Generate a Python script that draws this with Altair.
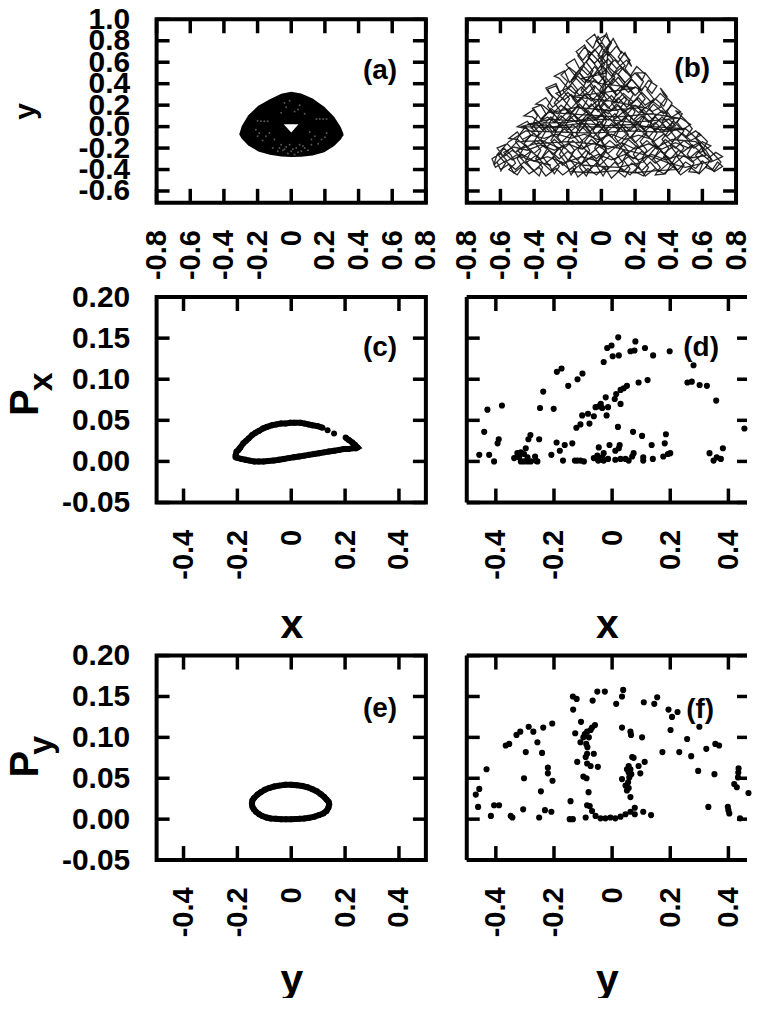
import altair as alt
import pandas as pd

FONT = "Liberation Sans"
X_TICKS_WIDE = [-0.8, -0.6, -0.4, -0.2, 0, 0.2, 0.4, 0.6, 0.8]
Y_TICKS_TOP = [-0.6, -0.4, -0.2, 0.0, 0.2, 0.4, 0.6, 0.8, 1.0]
X_TICKS_NARROW = [-0.4, -0.2, 0, 0.2, 0.4]
Y_TICKS_P = [-0.05, 0.0, 0.05, 0.10, 0.15, 0.20]

# panel (a): filled envelope of the trajectory
A_X = [-0.308, -0.294, -0.255, -0.196, -0.127, -0.059, 0, 0.059, 0.127, 0.196, 0.255, 0.294, 0.31]
A_TOP = [-0.066, 0.006, 0.106, 0.194, 0.256, 0.306, 0.325, 0.309, 0.263, 0.184, 0.091, -0.003, -0.066]
A_BOT = [-0.075, -0.112, -0.175, -0.231, -0.263, -0.278, -0.284, -0.281, -0.269, -0.238, -0.181, -0.119, -0.081]
A_HOLE_X = [-0.045, 0, 0.043]
A_HOLE_TOP = [0.022, 0.022, 0.022]
A_HOLE_BOT = [0.022, -0.056, 0.022]
A_SPECK = [(-0.05, -0.22), (-0.03, -0.19), (0.0, -0.23), (0.03, -0.2), (0.06, -0.23), (-0.02, -0.25), (0.02, -0.26),
           (0.08, -0.2), (-0.08, -0.23), (0.05, -0.17), (-0.06, -0.17), (-0.2, -0.09), (-0.17, -0.13), (-0.13, -0.06),
           (-0.1, -0.12), (-0.21, -0.03), (0.14, -0.09), (0.18, -0.12), (0.21, -0.06), (0.11, -0.05), (0.16, -0.16),
           (-0.03, 0.18), (0.02, 0.14), (0.05, 0.2), (-0.01, 0.24), (-0.06, 0.13), (0.08, 0.12), (-0.18, 0.05),
           (-0.16, 0.05), (-0.14, 0.05), (0.17, 0.07), (0.19, 0.07), (0.21, 0.07), (0.15, 0.07), (-0.2, 0.055),
           (-0.04, -0.21), (0.01, -0.21), (0.04, -0.24), (-0.07, -0.2), (0.07, -0.18), (-0.01, -0.17), (0.1, -0.22),
           (-0.11, -0.2), (0.12, -0.17), (-0.15, -0.09), (-0.19, -0.06), (0.12, -0.12), (0.2, -0.1), (0.04, 0.16), (-0.04, 0.22)]

# panel (b): trajectory, read row by row
B_PATH = [
(-0.62,-0.33),(-0.6,-0.4),(-0.55,-0.35),(-0.52,-0.43),(-0.47,-0.37),(-0.43,-0.44),(-0.37,-0.38),(-0.33,-0.46),(-0.27,-0.39),(-0.23,-0.45),(-0.17,-0.38),(-0.14,-0.47),(-0.08,-0.39),(-0.03,-0.45),(0.02,-0.38),(0.06,-0.48),(0.12,-0.39),(0.17,-0.45),(0.22,-0.37),(0.26,-0.46),(0.32,-0.39),(0.37,-0.44),(0.43,-0.37),(0.47,-0.45),(0.53,-0.38),(0.58,-0.44),(0.63,-0.36),(0.67,-0.42),(0.72,-0.37),(0.69,-0.33),
(0.66,-0.4),(0.6,-0.32),(0.56,-0.39),(0.5,-0.33),(0.45,-0.41),(0.4,-0.34),(0.34,-0.42),(0.29,-0.33),(0.24,-0.41),(0.18,-0.34),(0.13,-0.42),(0.08,-0.33),(0.03,-0.41),(-0.03,-0.34),(-0.08,-0.42),(-0.13,-0.33),(-0.19,-0.4),(-0.24,-0.33),(-0.3,-0.41),(-0.35,-0.34),(-0.4,-0.41),(-0.46,-0.33),(-0.51,-0.4),(-0.57,-0.32),(-0.63,-0.38),(-0.65,-0.3),
(-0.6,-0.25),(-0.56,-0.32),(-0.5,-0.26),(-0.45,-0.34),(-0.39,-0.27),(-0.34,-0.35),(-0.28,-0.28),(-0.23,-0.36),(-0.17,-0.27),(-0.12,-0.35),(-0.06,-0.28),(-0.01,-0.36),(0.05,-0.27),(0.1,-0.35),(0.16,-0.28),(0.21,-0.36),(0.27,-0.27),(0.32,-0.34),(0.38,-0.28),(0.43,-0.35),(0.49,-0.27),(0.54,-0.33),(0.6,-0.26),(0.65,-0.33),(0.72,-0.28),(0.68,-0.24),
(0.63,-0.3),(0.57,-0.23),(0.52,-0.3),(0.46,-0.22),(0.41,-0.3),(0.35,-0.23),(0.3,-0.31),(0.24,-0.23),(0.19,-0.3),(0.13,-0.22),(0.08,-0.31),(0.02,-0.23),(-0.03,-0.3),(-0.09,-0.22),(-0.14,-0.31),(-0.2,-0.23),(-0.25,-0.3),(-0.31,-0.22),(-0.36,-0.3),(-0.42,-0.23),(-0.47,-0.29),(-0.53,-0.22),(-0.58,-0.28),(-0.62,-0.2),
(-0.56,-0.16),(-0.51,-0.24),(-0.45,-0.17),(-0.4,-0.25),(-0.34,-0.17),(-0.29,-0.26),(-0.23,-0.18),(-0.18,-0.25),(-0.12,-0.17),(-0.07,-0.26),(-0.01,-0.18),(0.04,-0.25),(0.1,-0.17),(0.15,-0.26),(0.21,-0.18),(0.26,-0.25),(0.32,-0.17),(0.37,-0.25),(0.43,-0.18),(0.48,-0.24),(0.54,-0.17),(0.59,-0.24),(0.65,-0.18),(0.6,-0.14),
(0.55,-0.2),(0.49,-0.13),(0.44,-0.2),(0.38,-0.12),(0.33,-0.21),(0.27,-0.13),(0.22,-0.2),(0.16,-0.12),(0.11,-0.21),(0.05,-0.13),(0,-0.2),(-0.06,-0.12),(-0.11,-0.21),(-0.17,-0.13),(-0.22,-0.2),(-0.28,-0.12),(-0.33,-0.2),(-0.39,-0.13),(-0.44,-0.19),(-0.5,-0.12),(-0.55,-0.11),
(-0.5,-0.05),(-0.46,-0.14),(-0.4,-0.06),(-0.35,-0.15),(-0.29,-0.07),(-0.24,-0.15),(-0.18,-0.06),(-0.13,-0.15),(-0.07,-0.07),(-0.02,-0.15),(0.04,-0.06),(0.09,-0.15),(0.15,-0.07),(0.2,-0.15),(0.26,-0.06),(0.31,-0.14),(0.37,-0.07),(0.42,-0.14),(0.48,-0.06),(0.53,-0.13),(0.59,-0.08),(0.56,-0.04),
(0.5,-0.1),(0.44,-0.02),(0.39,-0.09),(0.33,-0.01),(0.28,-0.1),(0.22,-0.02),(0.17,-0.1),(0.11,-0.01),(0.06,-0.1),(0,-0.02),(-0.05,-0.1),(-0.11,-0.01),(-0.16,-0.1),(-0.22,-0.02),(-0.27,-0.1),(-0.33,-0.01),(-0.38,-0.09),(-0.44,-0.02),(-0.5,0.0),
(-0.44,0.05),(-0.4,-0.04),(-0.34,0.04),(-0.29,-0.05),(-0.23,0.05),(-0.18,-0.04),(-0.12,0.04),(-0.07,-0.05),(-0.01,0.05),(0.04,-0.04),(0.1,0.04),(0.15,-0.05),(0.21,0.05),(0.26,-0.04),(0.32,0.04),(0.37,-0.04),(0.43,0.05),(0.48,-0.03),(0.53,0.02),
(0.47,0.08),(0.42,0.0),(0.36,0.09),(0.31,0.01),(0.25,0.1),(0.2,0.0),(0.14,0.09),(0.09,0.01),(0.03,0.1),(-0.02,0.0),(-0.08,0.09),(-0.13,0.01),(-0.19,0.1),(-0.24,0.0),(-0.3,0.09),(-0.35,0.01),(-0.41,0.09),(-0.46,0.1),
(-0.4,0.16),(-0.36,0.07),(-0.3,0.15),(-0.25,0.06),(-0.19,0.16),(-0.14,0.07),(-0.08,0.15),(-0.03,0.06),(0.03,0.16),(0.08,0.07),(0.14,0.15),(0.19,0.06),(0.25,0.16),(0.3,0.07),(0.36,0.15),(0.41,0.08),(0.47,0.14),
(0.42,0.2),(0.37,0.12),(0.31,0.21),(0.26,0.12),(0.2,0.2),(0.15,0.11),(0.09,0.21),(0.04,0.12),(-0.02,0.2),(-0.07,0.11),(-0.13,0.21),(-0.18,0.12),(-0.24,0.2),(-0.29,0.12),(-0.35,0.2),(-0.39,0.21),
(-0.33,0.27),(-0.29,0.18),(-0.23,0.26),(-0.18,0.17),(-0.12,0.27),(-0.07,0.18),(-0.01,0.26),(0.04,0.17),(0.1,0.27),(0.15,0.18),(0.21,0.26),(0.26,0.17),(0.32,0.26),(0.37,0.19),(0.39,0.25),
(0.35,0.31),(0.3,0.22),(0.24,0.32),(0.19,0.23),(0.13,0.31),(0.08,0.22),(0.02,0.32),(-0.03,0.23),(-0.09,0.31),(-0.14,0.22),(-0.2,0.32),(-0.25,0.23),(-0.31,0.31),(-0.33,0.36),
(-0.27,0.4),(-0.24,0.29),(-0.18,0.38),(-0.13,0.29),(-0.07,0.39),(-0.02,0.28),(0.04,0.38),(0.09,0.29),(0.15,0.39),(0.2,0.29),(0.26,0.38),(0.3,0.31),(0.33,0.38),
(0.28,0.43),(0.24,0.34),(0.18,0.44),(0.13,0.35),(0.07,0.45),(0.02,0.34),(-0.04,0.44),(-0.09,0.35),(-0.15,0.45),(-0.2,0.36),(-0.25,0.45),(-0.28,0.47),
(-0.22,0.52),(-0.19,0.41),(-0.13,0.5),(-0.08,0.41),(-0.02,0.51),(0.03,0.41),(0.09,0.5),(0.14,0.41),(0.2,0.5),(0.24,0.43),(0.26,0.49),
(0.21,0.56),(0.17,0.47),(0.11,0.57),(0.06,0.47),(0,0.58),(-0.05,0.47),(-0.11,0.57),(-0.16,0.48),(-0.21,0.58),
(-0.16,0.63),(-0.13,0.54),(-0.07,0.64),(-0.02,0.54),(0.04,0.63),(0.09,0.54),(0.15,0.62),(0.18,0.56),
(0.14,0.69),(0.1,0.6),(0.04,0.7),(-0.01,0.6),(-0.07,0.7),(-0.11,0.62),(-0.15,0.7),
(-0.1,0.76),(-0.07,0.66),(-0.01,0.76),(0.04,0.66),(0.09,0.75),(0.12,0.68),
(0.07,0.82),(0.03,0.72),(-0.02,0.84),(-0.05,0.73),(-0.09,0.8),
(-0.04,0.86),(-0.01,0.76),(0.03,0.87),(0.05,0.78),(0.01,0.7),(0.0,0.55),(0.02,0.4),(-0.02,0.25),(0.01,0.1),
(-0.2,0.04),(-0.4,0.03),(-0.48,0.0),(-0.3,-0.01),(-0.1,0.0),(0.1,-0.01),(0.3,0.0),(0.5,-0.02),(0.35,-0.05),(0.15,-0.04),(-0.05,-0.06),(-0.25,-0.05),(-0.45,-0.04),
(-0.55,-0.14),(-0.62,-0.26),(-0.64,-0.36),(-0.5,-0.14),(-0.35,-0.13),(-0.25,-0.2),(-0.2,-0.31),(-0.1,-0.36),(0.1,-0.38),(0.25,-0.33),(0.32,-0.2),(0.42,-0.12),(0.56,-0.14),(0.62,-0.22),(0.66,-0.32),
(0.5,-0.38),(0.4,-0.34),(0.3,-0.28),(0.1,-0.2),(-0.05,-0.16),(-0.2,-0.14),(-0.4,-0.16),(-0.5,-0.22),(-0.45,-0.3),(-0.3,-0.36),
]
# second pass of the same trajectory, climbing and falling through the triangle
B_PATH2 = [
(-0.6,-0.42),(-0.57,-0.34),(-0.61,-0.27),(-0.58,-0.2),(-0.54,-0.26),(-0.51,-0.34),(-0.55,-0.4),(-0.5,-0.45),(-0.47,-0.38),(-0.5,-0.3),(-0.47,-0.22),(-0.51,-0.14),(-0.48,-0.06),(-0.45,0.0),(-0.42,-0.08),(-0.46,-0.16),(-0.42,-0.24),(-0.45,-0.32),(-0.41,-0.4),(-0.37,-0.46),(-0.35,-0.38),(-0.39,-0.3),(-0.36,-0.22),(-0.4,-0.14),(-0.37,-0.06),(-0.41,0.02),(-0.38,0.1),(-0.41,0.17),(-0.36,0.2),(-0.33,0.12),(-0.37,0.04),(-0.33,-0.04),(-0.36,-0.12),(-0.32,-0.2),(-0.35,-0.28),(-0.31,-0.36),(-0.28,-0.44),(-0.25,-0.37),(-0.29,-0.29),(-0.26,-0.21),(-0.3,-0.13),(-0.27,-0.05),(-0.31,0.03),(-0.28,0.11),(-0.32,0.19),(-0.29,0.27),(-0.32,0.35),(-0.27,0.38),(-0.24,0.3),(-0.28,0.22),(-0.24,0.14),(-0.27,0.06),(-0.23,-0.02),(-0.26,-0.1),(-0.22,-0.18),(-0.25,-0.26),(-0.21,-0.34),(-0.18,-0.45),(-0.15,-0.38),(-0.19,-0.3),(-0.16,-0.22),(-0.2,-0.14),(-0.17,-0.06),(-0.21,0.02),(-0.18,0.1),(-0.22,0.18),(-0.19,0.26),(-0.23,0.34),(-0.2,0.42),(-0.24,0.48),(-0.19,0.55),(-0.15,0.5),(-0.18,0.42),(-0.14,0.34),(-0.17,0.26),(-0.13,0.18),(-0.16,0.1),(-0.12,0.02),(-0.15,-0.06),(-0.11,-0.14),(-0.14,-0.22),(-0.1,-0.3),(-0.13,-0.38),(-0.09,-0.46),
(-0.06,-0.38),(-0.1,-0.3),(-0.07,-0.22),(-0.1,-0.14),(-0.06,-0.06),(-0.1,0.02),(-0.07,0.1),(-0.11,0.18),(-0.08,0.26),(-0.12,0.34),(-0.09,0.42),(-0.13,0.5),(-0.1,0.58),(-0.14,0.66),(-0.1,0.74),(-0.06,0.68),(-0.09,0.6),(-0.05,0.52),(-0.08,0.44),(-0.04,0.36),(-0.07,0.28),(-0.03,0.2),(-0.06,0.12),(-0.02,0.04),(-0.05,-0.04),(-0.01,-0.12),(-0.04,-0.2),(0,-0.28),(-0.03,-0.36),(0.01,-0.46),
(0.04,-0.38),(0.0,-0.3),(0.03,-0.22),(0.0,-0.14),(0.04,-0.06),(0.0,0.02),(0.03,0.1),(-0.01,0.18),(0.03,0.26),(-0.01,0.34),(0.02,0.42),(-0.02,0.5),(0.02,0.58),(-0.02,0.66),(0.01,0.74),(-0.03,0.8),(0.02,0.85),(0.06,0.78),(0.03,0.7),(0.07,0.62),(0.04,0.54),(0.08,0.46),(0.05,0.38),(0.09,0.3),(0.06,0.22),(0.1,0.14),(0.07,0.06),(0.11,-0.02),(0.08,-0.1),(0.12,-0.18),(0.09,-0.26),(0.13,-0.34),(0.1,-0.42),(0.14,-0.47),
(0.17,-0.39),(0.13,-0.31),(0.16,-0.23),(0.12,-0.15),(0.16,-0.07),(0.12,0.01),(0.15,0.09),(0.11,0.17),(0.15,0.25),(0.11,0.33),(0.14,0.41),(0.1,0.49),(0.14,0.57),(0.1,0.65),(0.12,0.7),(0.17,0.62),(0.14,0.54),(0.18,0.46),(0.15,0.38),(0.19,0.3),(0.16,0.22),(0.2,0.14),(0.17,0.06),(0.21,-0.02),(0.18,-0.1),(0.22,-0.18),(0.19,-0.26),(0.23,-0.34),(0.2,-0.42),(0.25,-0.46),
(0.28,-0.38),(0.24,-0.3),(0.27,-0.22),(0.23,-0.14),(0.27,-0.06),(0.23,0.02),(0.26,0.1),(0.22,0.18),(0.26,0.26),(0.22,0.34),(0.25,0.42),(0.21,0.5),(0.26,0.5),(0.3,0.42),(0.27,0.34),(0.31,0.26),(0.28,0.18),(0.32,0.1),(0.29,0.02),(0.33,-0.06),(0.3,-0.14),(0.34,-0.22),(0.31,-0.3),(0.35,-0.38),(0.32,-0.45),
(0.38,-0.44),(0.41,-0.36),(0.37,-0.28),(0.4,-0.2),(0.36,-0.12),(0.4,-0.04),(0.36,0.04),(0.39,0.12),(0.35,0.2),(0.39,0.28),(0.35,0.36),(0.37,0.3),(0.42,0.22),(0.39,0.14),(0.43,0.06),(0.4,-0.02),(0.44,-0.1),(0.41,-0.18),(0.45,-0.26),(0.42,-0.34),(0.46,-0.43),
(0.49,-0.36),(0.45,-0.28),(0.49,-0.2),(0.45,-0.12),(0.49,-0.04),(0.45,0.04),(0.48,0.12),(0.44,0.15),(0.5,0.06),(0.54,-0.02),(0.5,-0.1),(0.54,-0.18),(0.51,-0.26),(0.55,-0.34),(0.52,-0.42),(0.58,-0.43),(0.6,-0.35),(0.56,-0.27),(0.6,-0.19),(0.56,-0.11),(0.58,-0.06),(0.63,-0.14),(0.6,-0.22),(0.65,-0.3),(0.62,-0.38),(0.67,-0.41),(0.71,-0.33),(0.67,-0.26),(0.63,-0.2),
(0.5,-0.02),(0.36,-0.03),(0.2,0.02),(0.04,0.01),(-0.12,0.03),(-0.28,0.0),(-0.44,0.02),(-0.3,0.07),(-0.14,0.05),(0.02,0.07),(0.18,0.04),(0.34,0.06),(0.46,0.08),
(0.3,0.12),(0.1,0.09),(-0.1,0.11),(-0.3,0.13),(-0.15,0.18),(0.05,0.15),(0.25,0.18),(0.05,0.24),(-0.18,0.28),(0.02,0.32),(0.2,0.36),(0.0,0.4),(-0.12,0.45),(0.03,0.5),(-0.02,0.62),
]
# third pass: shorter loops through the central part
B_PATH3 = [
(-0.42,-0.02),(-0.39,0.03),(-0.35,-0.03),(-0.31,0.02),(-0.27,-0.04),(-0.24,0.03),(-0.2,-0.03),(-0.17,0.02),(-0.13,-0.04),(-0.09,0.03),(-0.05,-0.03),(-0.02,0.02),(0.02,-0.04),(0.06,0.03),(0.1,-0.03),(0.13,0.02),(0.17,-0.04),(0.21,0.03),(0.25,-0.03),(0.28,0.02),(0.32,-0.04),(0.36,0.02),(0.4,-0.03),(0.44,0.01),
(0.4,0.07),(0.36,0.03),(0.32,0.09),(0.28,0.04),(0.24,0.1),(0.2,0.05),(0.16,0.11),(0.12,0.05),(0.08,0.12),(0.04,0.06),(0,0.12),(-0.04,0.06),(-0.08,0.12),(-0.12,0.05),(-0.16,0.11),(-0.2,0.05),(-0.24,0.1),(-0.28,0.04),(-0.32,0.09),(-0.36,0.05),
(-0.3,0.17),(-0.26,0.12),(-0.22,0.18),(-0.18,0.13),(-0.14,0.2),(-0.1,0.14),(-0.06,0.21),(-0.02,0.14),(0.02,0.22),(0.06,0.15),(0.1,0.2),(0.14,0.14),(0.18,0.19),(0.22,0.13),(0.26,0.18),(0.3,0.14),(0.35,0.18),
(0.3,0.24),(0.26,0.2),(0.22,0.27),(0.18,0.21),(0.14,0.28),(0.1,0.22),(0.06,0.29),(0.02,0.23),(-0.02,0.3),(-0.06,0.24),(-0.1,0.3),(-0.14,0.24),(-0.18,0.3),(-0.22,0.25),(-0.27,0.31),
(-0.2,0.36),(-0.16,0.31),(-0.12,0.37),(-0.08,0.31),(-0.04,0.38),(0,0.31),(0.04,0.38),(0.08,0.32),(0.12,0.38),(0.16,0.32),(0.2,0.37),(0.24,0.33),
(0.18,0.44),(0.14,0.38),(0.1,0.46),(0.06,0.39),(0.02,0.47),(-0.02,0.4),(-0.06,0.47),(-0.1,0.41),(-0.14,0.47),(-0.18,0.43),
(-0.12,0.54),(-0.08,0.48),(-0.04,0.56),(0,0.49),(0.04,0.56),(0.08,0.5),(0.12,0.55),(0.15,0.5),
(0.08,0.62),(0.04,0.57),(0,0.66),(-0.04,0.59),(-0.08,0.65),(-0.04,0.72),(0,0.64),(0.04,0.74),
(0.02,0.3),(-0.03,0.18),(0.03,0.05),(-0.02,-0.08),(0.03,-0.2),(-0.02,-0.32),(-0.12,-0.28),(-0.22,-0.34),(-0.32,-0.28),(-0.4,-0.32),(-0.47,-0.26),(-0.53,-0.31),(-0.58,-0.24),(-0.52,-0.19),(-0.44,-0.22),(-0.36,-0.17),(-0.28,-0.22),(-0.2,-0.16),(-0.12,-0.21),(-0.04,-0.15),(0.04,-0.21),(0.12,-0.15),(0.2,-0.21),(0.28,-0.16),(0.36,-0.21),(0.44,-0.15),(0.52,-0.2),(0.58,-0.15),
(0.62,-0.27),(0.54,-0.29),(0.46,-0.27),(0.38,-0.31),(0.3,-0.26),(0.22,-0.31),(0.14,-0.26),(0.06,-0.31),(-0.02,-0.26),(-0.1,-0.32),(-0.18,-0.42),(-0.05,-0.43),(0.08,-0.41),(0.2,-0.43),(0.33,-0.41),(0.45,-0.4),
(0.3,-0.12),(0.22,-0.08),(0.14,-0.12),(0.06,-0.07),(-0.02,-0.12),(-0.1,-0.07),(-0.18,-0.11),(-0.26,-0.07),(-0.34,-0.11),(-0.42,-0.08),(-0.47,-0.12),
]

# panel (c)
C_X = [-0.207,-0.203,-0.196,-0.189,-0.178,-0.168,-0.158,-0.145,-0.132,-0.12,-0.105,-0.09,-0.071,-0.055,-0.038,-0.021,-0.004,0.012,0.035,0.05,0.064,0.078,0.097,0.116,0.135,0.159,0.202,0.214,0.227,0.237,0.246,0.24,0.227,0.212,0.195,0.178,0.16,0.14,0.122,0.103,0.085,0.065,0.048,0.029,0.01,-0.01,-0.028,-0.046,-0.065,-0.085,-0.103,-0.12,-0.137,-0.155,-0.17,-0.185,-0.197,-0.207]
C_Y = [0.007,0.012,0.014,0.017,0.022,0.025,0.028,0.032,0.035,0.037,0.04,0.042,0.044,0.045,0.046,0.046,0.047,0.047,0.047,0.046,0.045,0.044,0.043,0.041,0.038,0.034,0.029,0.026,0.023,0.02,0.017,0.016,0.016,0.015,0.015,0.014,0.013,0.012,0.011,0.01,0.009,0.008,0.007,0.006,0.005,0.004,0.003,0.002,0.001,0.0005,0.0,0.0,0.0,0.001,0.002,0.003,0.004,0.005]

# panel (d)
D_X = [-0.457,-0.423,-0.406,-0.44,-0.429,-0.379,-0.394,-0.39,-0.337,-0.326,-0.314,-0.32,-0.314,-0.303,-0.291,-0.28,-0.263,-0.257,-0.265,-0.297,-0.303,-0.291,-0.288,-0.281,-0.251,-0.248,-0.237,-0.201,-0.19,-0.174,-0.151,-0.119,-0.102,-0.209,-0.191,-0.18,-0.163,-0.137,-0.169,-0.128,-0.12,-0.109,-0.097,-0.123,-0.109,-0.078,-0.103,-0.083,-0.063,-0.057,-0.046,-0.039,-0.034,-0.014,-0.019,-0.022,0.009,0.014,0.029,0.029,0.04,0.051,0.091,0.122,-0.029,-0.017,-0.002,0.021,0.002,0.023,0.063,0.077,0.08,0.113,0.141,0.198,0.28,0.259,0.274,0.301,0.326,0.358,0.455,0.02,0.072,0.103,0.185,0.181,0.136,-0.009,0.026,0.023,0.011,-0.046,-0.029,-0.034,-0.063,-0.051,-0.048,-0.038,-0.029,-0.014,0.011,0.029,0.046,0.057,0.069,0.074,0.107,0.107,0.14,0.176,0.192,0.2,0.335,0.349,0.36,0.374,0.381]
D_Y = [0.008,0.008,0.0,0.036,0.063,0.068,0.022,0.027,0.004,0.01,0.011,0.005,0.0,0.0,0.0,0.0,0.001,0.0,0.006,0.016,0.009,0.005,0.027,0.032,0.027,0.065,0.085,0.064,0.109,0.113,0.092,0.1,0.107,0.008,0.023,0.013,0.02,0.022,0.001,0.001,0.001,0.001,0.0,0.041,0.045,0.046,0.056,0.058,0.055,0.066,0.067,0.07,0.065,0.066,0.056,0.078,0.076,0.082,0.07,0.087,0.089,0.092,0.096,0.099,0.121,0.138,0.141,0.151,0.128,0.129,0.134,0.135,0.146,0.138,0.129,0.134,0.117,0.096,0.097,0.093,0.092,0.074,0.04,0.042,0.036,0.031,0.033,0.022,0.02,0.02,0.02,0.016,0.013,0.017,0.01,0.005,0.004,0.007,0.001,0.002,0.001,0.003,0.002,0.003,0.003,0.001,0.006,0.01,0.005,0.001,0.003,0.006,0.009,0.01,0.01,0.001,0.005,0.003,0.016]

# panel (f)
F_X = [-0.469,-0.457,-0.461,-0.432,-0.417,-0.406,-0.389,-0.349,-0.343,-0.306,-0.303,-0.366,-0.354,-0.329,-0.316,-0.287,-0.271,-0.257,-0.237,-0.206,-0.297,-0.241,-0.221,-0.221,-0.205,-0.245,-0.251,-0.231,-0.209,-0.143,-0.146,-0.135,-0.091,-0.135,-0.122,-0.134,-0.107,-0.067,-0.051,-0.025,0.014,0.038,0.034,0.109,0.145,0.155,0.194,0.206,0.225,0.3,0.201,0.258,0.173,0.231,0.272,0.324,0.355,0.368,0.296,0.352,0.435,0.434,0.433,0.42,0.429,0.469,0.331,0.398,0.4,0.403,0.44,
-0.127,-0.094,-0.086,-0.074,-0.059,-0.069,-0.08,-0.099,-0.109,-0.089,-0.085,-0.086,-0.063,-0.091,-0.12,-0.086,-0.074,-0.049,-0.099,-0.088,-0.081,
-0.086,-0.077,-0.069,-0.057,-0.04,-0.023,-0.006,0.011,0.029,0.046,0.063,0.078,0.078,0.107,0.134,
0.034,0.063,0.065,0.103,0.069,0.074,0.112,0.091,0.097,0.057,0.051,0.063,0.057,0.066,0.034,0.059,0.055,0.046,0.057,0.051,0.063]
F_Y = [0.03,0.037,0.015,0.061,0.004,0.017,0.017,0.004,0.002,0.012,0.05,0.09,0.092,0.103,0.107,0.113,0.107,0.094,0.112,0.117,0.082,0.081,0.063,0.056,0.047,0.034,0.002,0.011,0.009,0.022,0.0,0.0,0.002,0.15,0.147,0.134,0.119,0.145,0.156,0.156,0.141,0.158,0.15,0.143,0.141,0.149,0.134,0.125,0.131,0.113,0.109,0.098,0.082,0.082,0.077,0.086,0.092,0.09,0.059,0.055,0.062,0.057,0.051,0.043,0.039,0.032,0.015,0.015,0.011,0.007,0.001,
0.105,0.104,0.107,0.109,0.115,0.112,0.1,0.1,0.094,0.092,0.088,0.08,0.08,0.076,0.07,0.068,0.065,0.064,0.052,0.05,0.033,
0.017,0.016,0.01,0.004,0.001,0.001,0.002,0.001,0.003,0.006,0.009,0.014,0.006,0.009,0.005,
0.112,0.107,0.103,0.1,0.076,0.075,0.07,0.065,0.056,0.065,0.061,0.061,0.057,0.055,0.049,0.051,0.045,0.041,0.038,0.035,0.027]

# panel (e)
E_X = [-0.146,-0.144,-0.138,-0.125,-0.113,-0.098,-0.082,-0.063,-0.045,-0.022,0,0.021,0.042,0.061,0.079,0.095,0.11,0.123,0.131,0.139,0.141,0.138,0.131,0.119,0.104,0.086,0.067,0.048,0.03,0,-0.02,-0.038,-0.057,-0.076,-0.092,-0.107,-0.119,-0.131,-0.139,-0.144,-0.146]
E_Y = [0.019,0.023,0.026,0.03,0.033,0.036,0.038,0.04,0.041,0.042,0.042,0.0415,0.0405,0.039,0.0365,0.034,0.0305,0.027,0.024,0.021,0.018,0.014,0.01,0.007,0.005,0.003,0.0016,0.0008,0.0004,0,0,0,0.0004,0.0008,0.002,0.0037,0.006,0.009,0.012,0.015,0.019]


def label_expr(fmt):
    return (
        "datum.value == 0 ? '0\u00a0\u00a0\u00a0' : "
        f"replace(format(datum.value, '{fmt}'), '\u2212', '-')"
    )


def y_expr(fmt):
    return f"replace(format(datum.value, '{fmt}'), '\u2212', '-')"


def text_layer(s, x, y, size, angle=0):
    return alt.Chart(pd.DataFrame({"s": [s]})).mark_text(
        font=FONT, fontWeight="bold", fontSize=size, angle=angle, color="black"
    ).encode(text="s:N", x=alt.value(x), y=alt.value(y))


def panel(marks, w, h, xdom, ydom, xticks, yticks, tag, tag_x, tag_y,
          xtitle=None, ytitle=None, show_y=True, yfmt=".2f", sub=None, x_pad=27, title_pad=26, open_right=False, reserve=None):
    xs = alt.Scale(domain=xdom, nice=False, zero=False)
    ys = alt.Scale(domain=ydom, nice=False, zero=False)
    x_axis = alt.Axis(values=xticks, labelExpr=label_expr(".1f"), labelAngle=270, labelAlign="right",
                      labelBaseline="middle", labelPadding=x_pad, tickSize=0, domain=False, grid=False,
                      labelFont=FONT, labelFontWeight="bold", labelFontSize=29, labelColor="black",
                      labelOverlap=False, labelFlush=False, title=xtitle, titleFont=FONT, titleFontWeight="bold",
                      titleFontSize=41, titleColor="black", titlePadding=title_pad)
    if show_y:
        y_axis = alt.Axis(values=yticks, labelExpr=y_expr(yfmt), labelPadding=27, tickSize=0, domain=False,
                          grid=False, labelFont=FONT, labelFontWeight="bold", labelFontSize=30, labelColor="black",
                          labelOverlap=False, labelFlush=False, labelBaseline="middle", title=ytitle, titleFont=FONT,
                          titleFontWeight="bold", titleFontSize=30, titleColor="black", titlePadding=38)
    else:
        y_axis = None

    def X(field):
        return alt.X(field, scale=xs, axis=x_axis, title=xtitle)

    def Y(field):
        return alt.Y(field, scale=ys, axis=y_axis, title=ytitle)

    layers = [build(X, Y) for build in marks]
    dfx = pd.DataFrame({"t": xticks})
    dfy = pd.DataFrame({"t": yticks})
    rule = dict(strokeWidth=3.5, color="black")
    one = pd.DataFrame({"k": [0]})
    layers += [
        alt.Chart(dfx).mark_rule(**rule).encode(x=X("t:Q"), y=alt.value(h), y2=alt.value(h - 14)),
        alt.Chart(dfx).mark_rule(**rule).encode(x=X("t:Q"), y=alt.value(0), y2=alt.value(14)),
        alt.Chart(dfy).mark_rule(**rule).encode(y=Y("t:Q"), x=alt.value(0), x2=alt.value(13)),
        alt.Chart(dfy).mark_rule(**rule).encode(y=Y("t:Q"), x=alt.value(w), x2=alt.value(w - 13 if not open_right else w - 10)),
        text_layer(tag, tag_x, tag_y, 28),
    ]
    if reserve:
        layers.append(alt.Chart(one).mark_rule(strokeWidth=0, color="white", opacity=0).encode(
            x=alt.value(0), y=alt.value(h), y2=alt.value(h + reserve)))
    if open_right:
        frame = dict(strokeWidth=4, color="black")
        layers += [
            alt.Chart(one).mark_rule(**frame).encode(x=alt.value(0), x2=alt.value(w), y=alt.value(0)),
            alt.Chart(one).mark_rule(**frame).encode(x=alt.value(0), x2=alt.value(w), y=alt.value(h)),
            alt.Chart(one).mark_rule(**frame).encode(y=alt.value(0), y2=alt.value(h), x=alt.value(0)),
        ]
    if sub:
        layers += [text_layer("P", -131, sub[0], 40, 270), text_layer(sub[2], -114.5, sub[1], 34, 270)]
    view = alt.ViewBackground(stroke="transparent" if open_right else "black", strokeWidth=4)
    return alt.layer(*layers).properties(width=w, height=h, view=view)


def area(xv, top, bot, color, **kw):
    def build(X, Y):
        df = pd.DataFrame({"x": xv, "t": top, "b": bot})
        return alt.Chart(df).mark_area(color=color, **kw).encode(x=X("x:Q"), y=Y("t:Q"), y2="b:Q")
    return build


def path(xv, yv, width=1.0, color="#111111", opacity=0.9):
    def build(X, Y):
        df = pd.DataFrame({"x": xv, "y": yv, "i": range(len(xv))})
        return alt.Chart(df).mark_line(color=color, strokeWidth=width, opacity=opacity).encode(
            x=X("x:Q"), y=Y("y:Q"), order="i:Q")
    return build


def dots(xv, yv, size=38, color="black", opacity=1):
    def build(X, Y):
        df = pd.DataFrame({"x": xv, "y": yv})
        return alt.Chart(df).mark_circle(size=size, color=color, opacity=opacity).encode(x=X("x:Q"), y=Y("y:Q"))
    return build


YD = [-0.71, 1.0]
PD = [-0.05, 0.20]
XW = [-0.8, 0.8]
XN = [-0.5, 0.5]
XO = [-0.5, 0.464]

a = panel([area(A_X, A_TOP, A_BOT, "black"),
           dots([p[0] for p in A_SPECK], [p[1] for p in A_SPECK], size=4, color="#555555"),
           area(A_HOLE_X, A_HOLE_TOP, A_HOLE_BOT, "white")],
          270, 184, XW, YD, X_TICKS_WIDE, Y_TICKS_TOP, "(a)", 224, 52, ytitle="y", yfmt=".1f", reserve=84)
b = panel([path([p[0] for p in B_PATH], [p[1] for p in B_PATH], 1.3),
           path([p[0] for p in B_PATH2], [p[1] for p in B_PATH2], 1.3),
           path([p[0] for p in B_PATH3], [p[1] for p in B_PATH3], 1.3)],
          270, 184, XW, YD, X_TICKS_WIDE, Y_TICKS_TOP, "(b)", 226, 50, show_y=False, reserve=84)
c = panel([path(C_X[:24], C_Y[:24], 6, "black", 1), path(C_X[26:], C_Y[26:], 6, "black", 1), dots(C_X, C_Y, 36)],
          270, 206, XN, PD, X_TICKS_NARROW, Y_TICKS_P, "(c)", 224, 51, xtitle="x", sub=(106, 85, "x"))
d = panel([dots(D_X, D_Y)], 281, 206, XO, PD, X_TICKS_NARROW, Y_TICKS_P, "(d)", 235, 51, xtitle="x", show_y=False, open_right=True)
e = panel([path(E_X, E_Y, 6, "black", 1), dots(E_X, E_Y, 36)], 270, 205, XN, PD, X_TICKS_NARROW, Y_TICKS_P, "(e)", 224, 54,
          xtitle="y", sub=(109, 90, "y"), title_pad=24)
f = panel([dots(F_X, F_Y)], 281, 205, XO, PD, X_TICKS_NARROW, Y_TICKS_P, "(f)", 234, 55, xtitle="y", show_y=False, open_right=True, title_pad=24)

chart = alt.concat(a, b, c, d, e, f, columns=2, spacing={"row": -8.5, "column": 8}).properties(
    padding={"left": -4, "top": -7, "right": -2, "bottom": -6}, background="white")

chart.save("out.html", embed_options={"renderer": "svg", "actions": False})
